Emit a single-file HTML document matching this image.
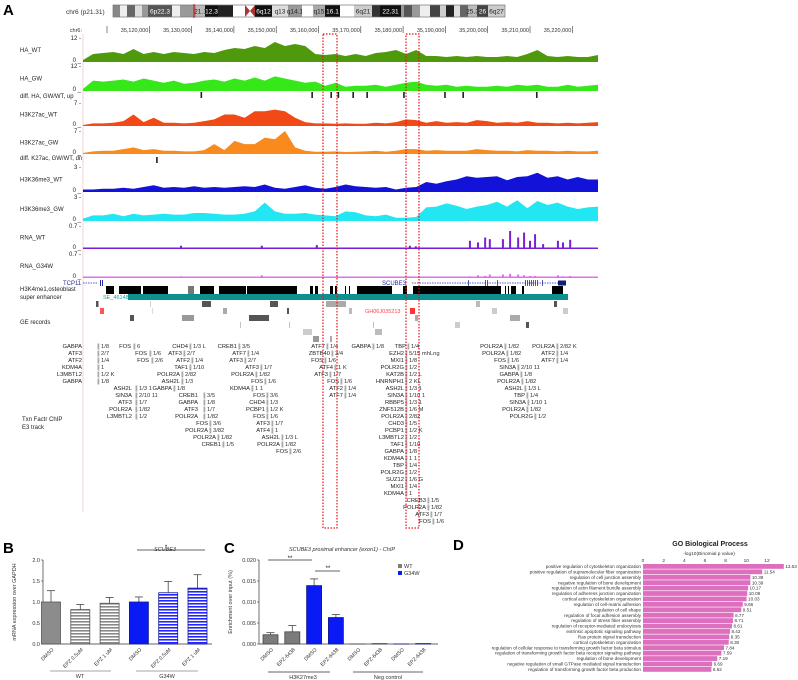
<!DOCTYPE html>
<html><head><meta charset="utf-8"><style>
html,body{margin:0;padding:0;background:#fff;}
svg{display:block;font-family:"Liberation Sans",sans-serif;}
</style></head><body>
<svg id="fig" width="798" height="680" viewBox="0 0 798 680" xmlns="http://www.w3.org/2000/svg">
<defs>
<pattern id="stripeGray" width="4" height="3" patternUnits="userSpaceOnUse"><rect width="4" height="3" fill="#fff"/><rect width="4" height="1.6" fill="#8a8a8a"/></pattern>
<pattern id="stripeBlue" width="4" height="3" patternUnits="userSpaceOnUse"><rect width="4" height="3" fill="#fff"/><rect width="4" height="1.6" fill="#2424ff"/></pattern>
</defs>
<g id="panelA"></g>
<g id="panelB"></g>
<g id="panelC"></g>
<g id="panelD"></g>
</svg>
<script>
// ---------- Panel A data ----------
const haWT=[1,4,4.5,5,4,6.5,4,5,4,5,4.5,4,5,4.5,6,7,6.5,8,7,10,8,9,8,4,3.5,4,3,4,3,4.5,5,6,4,6,3,3,2.5,3,2.5,3,2.5,2.5,3,2.5,4,6,3,2.5,3,2.5,2.5,3.5];
const haGW=[1,5,4.5,5,5.5,4.5,6,5,4,5,3.5,4,5,5.5,4.5,6,5,6.5,5,7,6,5,4,4.5,2.5,4,2,2.5,2.5,3,2,3,4,4.5,3,2.5,3,2,2.5,2,2,2.5,2,3,2.5,3,2,2,3,2,2.5,3];
const k27WT=[0.3,0.8,0.8,1,1.5,3.5,1.2,2.5,1,1,0.8,1,1.5,2,3.5,3.5,2.5,4.5,4.5,5,4.5,2.5,1.2,0.8,0.8,0.7,0.8,0.7,0.7,1,0.8,1.2,2,1.8,1,1.5,1,1.2,1,1.8,1.5,1,1.2,1,1.5,1,1,0.8,1,0.8,1,1.2];
const k27GW=[0.3,0.8,1,1,1.5,2,1.2,1.5,1,1,0.8,0.8,1.2,3,1.2,4,3,3,5,4.5,7,2,1,0.7,0.7,0.8,0.6,0.7,0.8,1,0.7,1,1.5,1.5,1,1.2,1,1,1,1.5,1.2,1,1,0.8,1.2,1,1,0.8,1,0.8,0.8,1];
const k36WT=[0.3,0.3,0.4,0.4,0.5,0.4,0.6,0.8,0.5,0.6,0.5,0.7,0.5,0.6,0.5,0.6,0.7,0.6,0.9,0.5,0.4,0.6,0.8,0.5,0.4,0.6,0.9,0.7,0.6,0.5,0.6,0.3,0.5,0.6,1.2,1,1.3,1.5,1.9,1.7,1.8,1.9,1.4,1.8,1.9,2.3,1.7,1.9,1.5,1.8,1.5,1.5];
const k36GW=[0.3,0.7,0.7,0.9,0.6,0.9,0.7,0.8,0.9,0.8,0.8,1,1,0.9,0.8,0.8,0.9,1.2,2.3,1.2,0.9,0.9,1,0.8,0.7,0.6,1.2,1.1,0.7,0.6,0.8,0.4,0.4,0.5,1.7,1.8,2.2,1.9,1.5,1.8,2,2.4,1.8,2.6,1.6,2.5,2,2.3,1.8,1.5,1.7,1.8];
const rnaPosKb=[35127.5,35146.6,35159.6,35181.6,35183,35189.4,35195.8,35197.7,35199.4,35200.5,35203.6,35205.3,35207.2,35208.6,35210,35211.2,35213.1,35216.6,35217.8,35219.5];
const rnaWT=[0.1,0.1,0.12,0.1,0.08,0.04,0.25,0.2,0.35,0.3,0.3,0.55,0.35,0.5,0.25,0.45,0.15,0.25,0.2,0.28];
const rnaGW=[0.05,0.08,0.04,0.05,0.04,0.03,0.05,0.08,0.06,0.1,0.1,0.12,0.1,0.08,0.06,0.06,0.04,0.08,0.05,0.06];
const rulerKb=[35120,35130,35140,35150,35160,35170,35180,35190,35200,35210,35220];
const diffUpKb=[35132.3,35158.5,35163,35164.7,35168.2,35171.5,35180.2,35189.9,35194.2,35211.6];
const diffDnKb=[35121.8];

// ---------- Panel B data ----------
const bCats=["DMSO","EPZ 0.5uM","EPZ 1 uM","DMSO","EPZ 0.5uM","EPZ 1 uM"];
const bVals=[1.0,0.82,0.97,1.0,1.22,1.33];
const bErr=[0.27,0.12,0.14,0.12,0.27,0.32];
const bTicks=[0,0.5,1.0,1.5,2.0];
// ---------- Panel C data ----------
const cCats=["DMSO","EPZ-6438","DMSO","EPZ-6438","DMSO","EPZ-6438","DMSO","EPZ-6438"];
const cVals=[0.0022,0.0029,0.0139,0.0063,0,0.0001,0,0.0001];
const cErr=[0.0005,0.0015,0.0016,0.0007,0,0,0,0];
const cTicks=[0,0.005,0.010,0.015,0.020];
// ---------- Panel D data ----------
const goTerms=["positive regulation of cytoskeleton organization","positive regulation of supramolecular fiber organization","regulation of cell junction assembly","negative regulation of bone development","regulation of actin filament bundle assembly","regulation of adherens junction organization","cortical actin cytoskeleton organization","regulation of cell-matrix adhesion","regulation of cell shape","regulation of focal adhesion assembly","regulation of stress fiber assembly","regulation of receptor-mediated endocytosis","extrinsic apoptotic signaling pathway","Ras protein signal transduction","cortical cytoskeleton organization","regulation of cellular response to transforming growth factor beta stimulus","regulation of transforming growth factor beta receptor signaling pathway","regulation of bone development","negative regulation of small GTPase mediated signal transduction","regulation of transforming growth factor beta production"];
const goVals=[13.63,11.54,10.39,10.39,10.17,10.09,10.03,9.66,9.51,8.77,8.71,8.61,8.42,8.35,8.30,7.84,7.59,7.19,6.69,6.62];
const goTicks=[0,2,4,6,8,10,12];

const NS="http://www.w3.org/2000/svg";
function el(parent,tag,attrs,text){const e=document.createElementNS(NS,tag);for(const k in attrs)e.setAttribute(k,attrs[k]);if(text!==undefined)e.textContent=text;parent.appendChild(e);return e;}

// ========== Panel A ==========
const A=document.getElementById('panelA');
const xG=kb=>107+(kb-35110)*4.23;
const xBin=i=>83+i*(515/(haWT.length-1));
let t;
t=el(A,'text',{x:3,y:15,'font-size':15,'font-weight':'bold'},'A');

t=el(A,'text',{x:66,y:14,'font-size':6.5,fill:'#333'},'chr6 (p21.31)');

// ideogram
const bands=[[113,120,'#888',''],[120,127,'#eee',''],[127,135,'#666',''],[135,142,'#ddd',''],[142,148,'#999',''],[148,172,'#555','6p22.3'],[172,180,'#eee',''],[180,196,'#999',''],[196,205,'#bbb','21.1'],[205,218,'#111','12.3'],[218,233,'#222',''],[233,245,'#fff',''],[255,272,'#111','6q12'],[272,288,'#ddd','q13'],[288,302,'#999','q14.1'],[302,313,'#fff',''],[313,325,'#aaa','q15'],[325,340,'#111','16.1'],[340,354,'#fff',''],[354,372,'#ccc','6q21'],[372,380,'#333',''],[380,401,'#111','22.31'],[401,404,'#999',''],[404,412,'#555',''],[412,420,'#999',''],[420,430,'#eee',''],[430,440,'#444',''],[440,446,'#ccc',''],[446,454,'#222',''],[454,460,'#ddd',''],[460,468,'#666',''],[468,477,'#bbb','25.3'],[477,488,'#444','26'],[488,505,'#ccc','6q27']];
const ideo=el(A,'g',{});

bands.forEach(b=>{el(ideo,'rect',{x:b[0],y:5,width:b[1]-b[0],height:12,fill:b[2]});
 if(b[3]){const dark=['#111','#222','#333','#444','#555','#666'].includes(b[2]);el(ideo,'text',{x:(b[0]+b[1])/2,y:13.5,'font-size':6.5,'text-anchor':'middle',fill:dark?'#fff':'#222'},b[3]);}});
el(ideo,'polygon',{points:'245,5 250,11 245,17',fill:'#a33'});el(ideo,'polygon',{points:'255,5 250,11 255,17',fill:'#a33'});
el(ideo,'rect',{x:113,y:5,width:392,height:12,fill:'none',stroke:'#777','stroke-width':0.7});
el(ideo,'line',{x1:194,y1:4,x2:194,y2:18,stroke:'#e00','stroke-width':1});
// ruler
t=el(A,'text',{x:82,y:32,'font-size':5.5,'text-anchor':'end',fill:'#333'},'chr6:');

el(A,'line',{x1:107,y1:26,x2:107,y2:33,stroke:'#333','stroke-width':0.6});
rulerKb.forEach(kb=>{const x=xG(kb);el(A,'line',{x1:x,y1:26,x2:x,y2:33,stroke:'#333','stroke-width':0.6});
 const tt=el(A,'text',{x:x-1,y:32,'font-size':5.5,'text-anchor':'end',fill:'#333'},(kb*1000).toLocaleString('en-US'));
 });
// pink guide
el(A,'line',{x1:83,y1:34,x2:83,y2:512,stroke:'#f6c6c6','stroke-width':0.8});
// signal tracks
function track(name,label,arr,max,top,base,color,topLbl){
 const g=el(A,'g',{});
 
 const h=base-top;
 let pts=`${xBin(0)},${base} `;
 arr.forEach((v,i)=>{pts+=`${xBin(i).toFixed(1)},${(base-v/max*h).toFixed(1)} `;});
 pts+=`${xBin(arr.length-1)},${base}`;
 el(g,'polygon',{points:pts,fill:color});
 el(g,'text',{x:20,y:(top+base)/2+2,'font-size':6,fill:'#222'},label);
 el(g,'text',{x:81,y:top+2,'font-size':6,'text-anchor':'end',fill:'#222'},topLbl+' -');
 el(g,'text',{x:81,y:base,'font-size':6,'text-anchor':'end',fill:'#222'},'0 _');
}
track('track-ha-wt','HA_WT',haWT,12,38,62,'#4f9a0c','12');
track('track-ha-gw','HA_GW',haGW,12,66,91,'#36e81a','12');
track('track-h3k27ac-wt','H3K27ac_WT',k27WT,7,103,126,'#f24a16','7');
track('track-h3k27ac-gw','H3K27ac_GW',k27GW,7,131,154,'#f88a1e','7');
track('track-h3k36me3-wt','H3K36me3_WT',k36WT,3,167,192,'#1212d8','3');
track('track-h3k36me3-gw','H3K36me3_GW',k36GW,3,197,221,'#22e6f2','3');
function rnaTrack(name,label,vals,top,base,color){
 const g=el(A,'g',{});
 
 el(g,'rect',{x:83,y:base-1.5,width:515,height:1.5,fill:color});
 vals.forEach((v,i)=>{const x=xG(rnaPosKb[i]);const hh=v/0.7*(base-top);el(g,'rect',{x:x-1,y:base-hh,width:2,height:hh,fill:color});});
 el(g,'text',{x:20,y:(top+base)/2+2,'font-size':6,fill:'#222'},label);
 el(g,'text',{x:81,y:top+2,'font-size':6,'text-anchor':'end',fill:'#222'},'0.7 -');
 el(g,'text',{x:81,y:base,'font-size':6,'text-anchor':'end',fill:'#222'},'0 _');
}
rnaTrack('track-rna-wt','RNA_WT',rnaWT,226,249,'#7a1ed8');
rnaTrack('track-rna-g34w','RNA_G34W',rnaGW,254,278,'#e070ea');
// diff tracks
const dUp=el(A,'g',{});
el(dUp,'text',{x:20,y:98,'font-size':6,fill:'#222'},'diff. HA, GW/WT, up');
diffUpKb.forEach(kb=>el(dUp,'rect',{x:xG(kb)-0.8,y:92,width:1.6,height:6,fill:'#222'}));
const dDn=el(A,'g',{});
el(dDn,'text',{x:20,y:160,'font-size':6,fill:'#222'},'diff. K27ac, GW/WT, dn');
diffDnKb.forEach(kb=>el(dDn,'rect',{x:xG(kb)-0.8,y:157,width:1.6,height:6,fill:'#222'}));
// gene track
const gene=el(A,'g',{});
el(gene,'text',{x:63,y:285,'font-size':6,fill:'#2a2aa0'},'TCP11');
el(gene,'line',{x1:83,y1:283,x2:98,y2:283,stroke:'#2a2aa0','stroke-width':0.7,'stroke-dasharray':'1.5,1'});
el(gene,'rect',{x:100,y:280,width:1,height:6,fill:'#2a2aa0'});el(gene,'rect',{x:102,y:280,width:1,height:6,fill:'#2a2aa0'});
el(gene,'text',{x:382,y:285,'font-size':6,fill:'#2a2aa0'},'SCUBE3');
el(gene,'line',{x1:412,y1:283,x2:558,y2:283,stroke:'#2a2aa0','stroke-width':0.7,'stroke-dasharray':'1.5,1'});
[468,485,487,497,525,527,529,531,533,535,537,542].forEach(x=>el(gene,'rect',{x:x,y:280,width:0.8,height:6,fill:'#2a2aa0'}));
el(gene,'rect',{x:558,y:280.5,width:8,height:5,fill:'#0a2080'});
// H3K4me1
const k4=el(A,'g',{});
el(k4,'text',{x:20,y:291,'font-size':6,fill:'#222'},'H3K4me1,osteoblast');
[[106,114],[119,141],[143,168],[200,214],[219,246],[247,297],[310,313],[315,318],[330,333],[335,337],[345,346],[349,350],[357,392],[403,407],[413,501],[505,506],[508,509],[511,516],[522,524],[552,563]].forEach(b=>el(k4,'rect',{x:b[0],y:286,width:b[1]-b[0],height:8,fill:'#000'}));
el(k4,'rect',{x:188,y:286,width:6,height:8,fill:'#777'});
// super enhancer
const se=el(A,'g',{});
el(se,'text',{x:20,y:299,'font-size':6,fill:'#222'},'super enhancer');
el(se,'text',{x:103,y:299,'font-size':5.5,fill:'#18a0a0'},'SE_46148');
el(se,'rect',{x:128,y:294,width:440,height:6,fill:'#0f9090'});
// GE records
const ge=el(A,'g',{});
el(ge,'text',{x:20,y:324,'font-size':6,fill:'#222'},'GE records');
[[96,2.5,301,'#555'],[150,0.7,301,'#bbb'],[202,9,301,'#555'],[270,8,301,'#555'],[326,20,301,'#aaa'],[476,4,301,'#bbb'],[554,3,301,'#555'],
 [100,4,308,'#f55'],[152,0.7,308,'#ccc'],[223,4,308,'#aaa'],[287,2,308,'#555'],[349,3,308,'#bbb'],[410,5,308,'#f33'],[492,5,308,'#ccc'],[563,5,308,'#ccc'],
 [130,4,315,'#555'],[182,12,315,'#999'],[249,20,315,'#555'],[415,3,315,'#aaa'],[510,10,315,'#aaa'],
 [240,0.7,322,'#aaa'],[289,0.7,322,'#aaa'],[373,0.7,322,'#aaa'],[455,5,322,'#ccc'],[526,3,322,'#555'],
 [303,9,329,'#ccc'],[375,7,329,'#bbb'],[313,6,336,'#999'],[330,2,336,'#aaa']].forEach(b=>el(ge,'rect',{x:b[0],y:b[2],width:b[1],height:6,fill:b[3]}));
el(ge,'text',{x:365,y:313,'font-size':5.5,fill:'#f44'},'GH06J035213');
// TF ChIP
const tf=el(A,'g',{});
el(tf,'text',{x:22,y:421,'font-size':6,fill:'#222'},'Txn Factr ChIP');
el(tf,'text',{x:22,y:429,'font-size':6,fill:'#222'},'E3 track');
const tfGroups=[
 [82,0,[["GABPA","1/8"],["ATF3","2/7"],["ATF2","1/4"],["KDM4A","1"],["L3MBTL2","1/2 K"],["GABPA","1/8"]],14],
 [131,0,[["FOS","6"]],1],[147,1,[["FOS","1/6"]],1],[149,2,[["FOS","2/6"]],1],
 [132,6,[["ASH2L","1/3 1"],["SIN3A","2/10 11"],["ATF3","1/7"],["POLR2A","1/82"],["L3MBTL2","1/2"]],2],
 [188,0,[["CHD4","1/3 L"]],0],[182,1,[["ATF3","2/7"]],0],[190,2,[["ATF2","1/4"]],0],[188,3,[["TAF1","1/10"]],0],[180,4,[["POLR2A","2/82"],["ASH2L","1/3"]],0],[172,6,[["GABPA","1/8"]],0],
 [198,7,[["CREB1","3/5"],["GABPA","1/8"],["ATF3","1/7"],["POLR2A","1/82"]],4],[208,11,[["FOS","3/6"],["POLR2A","3/82"]],0],[216,13,[["POLR2A","1/82"]],0],[221,14,[["CREB1","1/5"]],0],
 [237,0,[["CREB1","3/5"]],0],[246,1,[["ATF7","1/4"]],0],[243,2,[["ATF3","2/7"]],0],[259,3,[["ATF3","1/7"]],0],[254,4,[["POLR2A","1/82"]],0],[263,5,[["FOS","1/6"]],0],[250,6,[["KDM4A","1 1"]],0],
 [265,7,[["FOS","3/6"],["CHD4","1/3"],["PCBP1","1/2 K"],["FOS","1/6"]],0],[270,11,[["ATF3","1/7"],["ATF4","1"]],0],[280,13,[["ASH2L","1/3 L"],["POLR2A","1/82"]],0],[288,15,[["FOS","2/6"]],0],
 [325,0,[["ATF7","1/4"]],0],[330,1,[["ZBTB40","3/4"]],0],[323,2,[["FOS","1/6"]],0],[333,3,[["ATF4","1 K"]],0],[328,4,[["ATF3","1/7"]],0],[339,5,[["FOS","1/6"]],0],[343,6,[["ATF2","1/4"],["ATF7","1/4"]],0],
 [371,0,[["GABPA","1/8"]],0],
 [406,0,[["TBP","1/4"]],0],
 [404,1,[["EZH2","5/15 mhLng"],["MXI1","1/8"],["POLR2G","1/2"],["KAT2B","1/2 L"],["HNRNPH1","2 KL"],["ASH2L","1/3 1"],["SIN3A","1/10 1"],["RBBP5","1/3 1"],["ZNF512B","1/6 M"],["POLR2A","2/82"],["CHD3","1/5"],["PCBP1","1/2 K"],["L3MBTL2","1/2"],["TAF1","1/10"],["GABPA","1/8"],["KDM4A","1 1"],["TBP","1/4"],["POLR2G","1/2"],["SUZ12","1/6 G"],["MXI1","1/4"],["KDM4A","1"]],0],
 [426,22,[["CREB3","1/5"],["POLR2A","1/82"]],0],[429,24,[["ATF3","1/7"]],0],[431,25,[["FOS","1/6"]],0],
 [503,0,[["POLR2A","1/82"]],0],[505,1,[["POLR2A","1/82"]],0],[506,2,[["FOS","1/6"]],0],[516,3,[["SIN3A","2/10 11"]],0],[519,4,[["GABPA","1/8"]],0],[520,5,[["POLR2A","1/82"]],0],[523,6,[["ASH2L","1/3 L"]],0],[525,7,[["TBP","1/4"]],0],[526,8,[["SIN3A","1/10 1"]],0],[525,9,[["POLR2A","1/82"]],0],[533,10,[["POLR2G","1/2"]],0],
 [555,0,[["POLR2A","2/82 K"],["ATF2","1/4"],["ATF7","1/4"]],0]];
tfGroups.forEach(gp=>{const x=gp[0];gp[2].forEach((e,k)=>{const y=346+(gp[1]+k)*7;
 el(tf,'text',{x:x,y:y+2,'font-size':5.8,'text-anchor':'end',fill:'#222'},e[0]);
 el(tf,'rect',{x:x+1.5+gp[3],y:y-2.5,width:1.8,height:6,fill:'#aaa'});
 el(tf,'text',{x:x+5+gp[3],y:y+2,'font-size':5.8,fill:'#333'},e[1]);});});
// red dashed highlight boxes
const hb=el(A,'g',{});
[[323,337],[406,419]].forEach(b=>el(hb,'rect',{x:b[0],y:34,width:b[1]-b[0],height:494,fill:'none',stroke:'#f01010','stroke-width':1.2,'stroke-dasharray':'1.5,1.5'}));

// ========== Panel B ==========
const B=document.getElementById('panelB');
const yB=v=>644-v*42;
const xB=i=>51+i*29.3;
t=el(B,'text',{x:3,y:553,'font-size':15,'font-weight':'bold'},'B');
t=el(B,'text',{x:165,y:551,'font-size':5.5,'font-style':'italic','text-anchor':'middle',fill:'#333'},'SCUBE3');
el(B,'line',{x1:43,y1:yB(2),x2:43,y2:644,stroke:'#333','stroke-width':0.7});
el(B,'line',{x1:43,y1:644,x2:212,y2:644,stroke:'#333','stroke-width':0.7});
bTicks.forEach(v=>{el(B,'line',{x1:41,y1:yB(v),x2:43,y2:yB(v),stroke:'#333','stroke-width':0.6});
 const tt=el(B,'text',{x:40,y:yB(v)+2,'font-size':5.5,'text-anchor':'end',fill:'#333'},v.toFixed(1));});
t=el(B,'text',{x:16,y:602,'font-size':5.5,fill:'#333','text-anchor':'middle',transform:'rotate(-90 16 602)'},'mRNA expression over GAPDH');
const bFills=['#8c8c8c','url(#stripeGray)','url(#stripeGray)','#0a1af5','url(#stripeBlue)','url(#stripeBlue)'];
bVals.forEach((v,i)=>{const x=xB(i);
 el(B,'line',{x1:x,y1:yB(v),x2:x,y2:yB(v+bErr[i]),stroke:'#444','stroke-width':0.8});
 el(B,'line',{x1:x-4,y1:yB(v+bErr[i]),x2:x+4,y2:yB(v+bErr[i]),stroke:'#444','stroke-width':0.8});
 const r=el(B,'rect',{x:x-9.5,y:yB(v),width:19,height:644-yB(v),fill:bFills[i],stroke:i<3?'#555':'#111a90','stroke-width':0.8});
 
 el(B,'text',{x:x+3,y:650,'font-size':5.2,'text-anchor':'end',fill:'#333',transform:`rotate(-45 ${x+3} 650)`},bCats[i]);});
el(B,'line',{x1:137,y1:550,x2:205,y2:550,stroke:'#333','stroke-width':0.7});
el(B,'text',{x:166,y:549,'font-size':6,'text-anchor':'middle'},'*');
el(B,'line',{x1:50,y1:671,x2:111,y2:671,stroke:'#888','stroke-width':0.8});
el(B,'line',{x1:136,y1:671,x2:198,y2:671,stroke:'#888','stroke-width':0.8});
el(B,'text',{x:80,y:678,'font-size':5.5,'text-anchor':'middle',fill:'#333'},'WT');
el(B,'text',{x:167,y:678,'font-size':5.5,'text-anchor':'middle',fill:'#333'},'G34W');

// ========== Panel C ==========
const C=document.getElementById('panelC');
const yC=v=>644-v/0.02*84;
const xC=i=>270.5+i*21.8;
t=el(C,'text',{x:224,y:553,'font-size':15,'font-weight':'bold'},'C');
t=el(C,'text',{x:342,y:551,'font-size':5.5,'font-style':'italic','text-anchor':'middle',fill:'#333'},'SCUBE3 proximal enhancer (exon1) - ChIP');
el(C,'line',{x1:259,y1:yC(0.02),x2:259,y2:644,stroke:'#333','stroke-width':0.7});
el(C,'line',{x1:259,y1:644,x2:438,y2:644,stroke:'#333','stroke-width':0.7});
cTicks.forEach(v=>{el(C,'line',{x1:257,y1:yC(v),x2:259,y2:yC(v),stroke:'#333','stroke-width':0.6});
 const tt=el(C,'text',{x:256,y:yC(v)+2,'font-size':5.5,'text-anchor':'end',fill:'#333'},v.toFixed(3));});
t=el(C,'text',{x:232,y:602,'font-size':5.5,fill:'#333','text-anchor':'middle',transform:'rotate(-90 232 602)'},'Enrichment over input (%)');
cVals.forEach((v,i)=>{const x=xC(i);const blue=(i%4)>=2;
 if(cErr[i]>0){el(C,'line',{x1:x,y1:yC(v),x2:x,y2:yC(v+cErr[i]),stroke:'#444','stroke-width':0.8});
 el(C,'line',{x1:x-4,y1:yC(v+cErr[i]),x2:x+4,y2:yC(v+cErr[i]),stroke:'#444','stroke-width':0.8});}
 const r=el(C,'rect',{x:x-7.5,y:yC(v),width:15,height:Math.max(0.01,644-yC(v)),fill:blue?'#0a1af5':'#7c7c7c',stroke:blue?'#111a90':'#444','stroke-width':0.8});
 
 el(C,'text',{x:x+3,y:650,'font-size':5.2,'text-anchor':'end',fill:'#333',transform:`rotate(-45 ${x+3} 650)`},cCats[i]);});
el(C,'line',{x1:268,y1:560,x2:312,y2:560,stroke:'#333','stroke-width':0.7});el(C,'text',{x:290,y:560,'font-size':6,'text-anchor':'middle'},'**');
el(C,'line',{x1:315,y1:571,x2:340,y2:571,stroke:'#333','stroke-width':0.7});el(C,'text',{x:328,y:570,'font-size':6,'text-anchor':'middle'},'**');
el(C,'line',{x1:268,y1:672,x2:330,y2:672,stroke:'#333','stroke-width':0.7});el(C,'text',{x:303,y:679,'font-size':5.5,'text-anchor':'middle',fill:'#333'},'H3K27me3');
el(C,'line',{x1:353,y1:672,x2:423,y2:672,stroke:'#333','stroke-width':0.7});el(C,'text',{x:388,y:679,'font-size':5.5,'text-anchor':'middle',fill:'#333'},'Neg control');
const lg=el(C,'g',{});
el(lg,'rect',{x:398,y:564,width:4,height:4,fill:'#7c7c7c'});el(lg,'text',{x:404,y:568,'font-size':5.5,fill:'#333'},'WT');
el(lg,'rect',{x:398,y:571,width:4,height:4,fill:'#0a1af5'});el(lg,'text',{x:404,y:575,'font-size':5.5,fill:'#333'},'G34W');

// ========== Panel D ==========
const D=document.getElementById('panelD');
const xD=v=>643+v*10.33;
const yD=i=>564+i*5.42;
t=el(D,'text',{x:453,y:550,'font-size':15,'font-weight':'bold'},'D');
t=el(D,'text',{x:710,y:546,'font-size':7,'font-weight':'bold','text-anchor':'middle',fill:'#222'},'GO Biological Process');
t=el(D,'text',{x:709,y:555,'font-size':4.8,'text-anchor':'middle',fill:'#333'},'-log10(Binomial p value)');
goTicks.forEach(v=>{const tt=el(D,'text',{x:xD(v),y:562,'font-size':4.8,'text-anchor':'middle',fill:'#333'},String(v));});
goVals.forEach((v,i)=>{const y=yD(i);
 const r=el(D,'rect',{x:643,y:y,width:xD(v)-643,height:4.8,fill:'#dd6fbe'});
 
 el(D,'text',{x:641,y:y+4,'font-size':4.6,'text-anchor':'end',fill:'#333'},goTerms[i]);
 el(D,'text',{x:xD(v)+1.5,y:y+4,'font-size':4.6,fill:'#333'},v.toFixed(2));});
</script>
</body></html>
